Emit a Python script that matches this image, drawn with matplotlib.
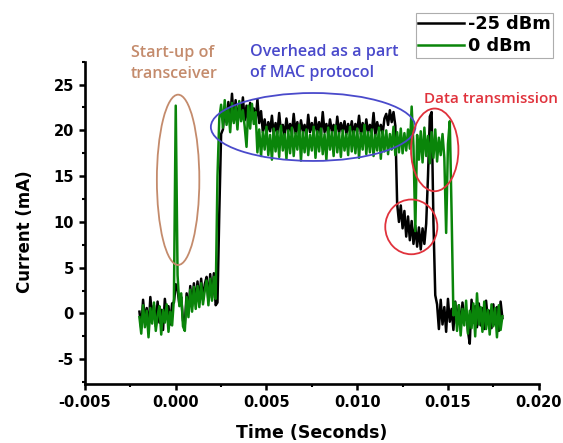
import numpy as np
import matplotlib
matplotlib.use('Agg')
import matplotlib.pyplot as plt
from matplotlib.patches import Ellipse

# sampling of the scope traces (s)
t_start = -0.002
t_step = 0.0001

# -25 dBm trace (mA), one value per sample, 10 samples per row
cur_m25 = [
    0.2, -1.6, 1.5, -0.8, 0.6, -1.9, 1.8, -0.5, 0.9, -1.4,
    1.3, -1.0, 0.4, -1.8, 1.6, -0.3, 0.8, -1.2, 1.1, 1.2,
    3.2, 2.6, 1.0, 1.8, -0.8, -1.2, 2.2, 0.1, 3.0, 0.8,
    3.3, 1.1, 3.5, 1.2, 3.8, 1.5, 3.2, 4.0, 1.4, 4.3,
    1.7, 4.4, 0.9, 1.2, 11.0, 19.6, 20.1, 22.6, 20.9, 23.1,
    21.2, 24.0, 21.0, 23.3, 20.8, 22.9, 21.4, 23.6, 21.1, 22.7,
    20.6, 23.0, 21.3, 22.4, 20.9, 23.4, 20.8, 22.1, 19.8, 21.2,
    19.6, 20.9, 19.9, 21.6, 19.5, 20.8, 19.7, 21.9, 19.8, 20.6,
    19.4, 21.3, 19.9, 20.7, 19.6, 21.8, 19.7, 20.9, 19.5, 21.1,
    19.9, 20.6, 19.3, 21.7, 19.8, 20.8, 19.6, 21.4, 19.7, 20.9,
    19.5, 22.0, 19.8, 20.7, 19.6, 21.2, 19.9, 20.6, 19.4, 21.5,
    19.7, 20.8, 19.9, 21.0, 19.6, 20.7, 19.8, 21.0, 19.5, 20.7,
    19.9, 21.6, 19.6, 20.8, 19.4, 21.2, 19.8, 20.6, 19.7, 21.9,
    19.5, 20.9, 19.9, 20.6, 19.6, 21.3, 21.8, 20.6, 22.2, 20.9,
    22.0, 20.5, 12.0, 10.0, 11.8, 9.3, 11.2, 8.4, 10.6, 8.0,
    10.1, 7.6, 9.6, 7.3, 9.4, 7.0, 9.3, 7.6, 9.8, 15.0,
    21.5, 22.0, 10.0, 2.0, 1.0, -1.7, 1.5, -1.2, 0.7, -2.0,
    1.6, -0.9, 0.5, -1.8, 1.3, -1.1, 0.9, -1.6, 1.2, -0.7,
    0.4, -1.9, -3.3, 1.5, -1.0, 0.8, -1.5, 1.1, -1.3, 0.6,
    -1.7, 1.4, -0.8, 0.3, -1.6, 1.0, -1.2, 0.7, -1.9, 1.3,
    -0.5,
]

# 0 dBm trace (mA)
cur_0 = [
    -0.4, -2.2, 0.9, -1.5, 0.3, -2.6, 0.6, -1.1, 1.2, -1.9,
    -0.2, 0.8, -2.3, 0.4, -1.0, 1.0, -2.0, 0.2, -1.3, 1.6,
    22.7, 4.2, 0.8, 2.2, -1.4, -1.9, 1.8, -0.4, 2.6, 0.2,
    2.9, 0.5, 3.0, 0.7, 3.3, 1.0, 2.5, 3.6, 0.9, 3.8,
    1.4, 4.0, 1.6, 15.0, 21.3, 22.8, 20.3, 23.3, 20.6, 22.4,
    19.8, 23.0, 20.8, 22.6, 20.1, 23.2, 21.0, 22.2, 20.4, 18.2,
    22.7, 20.2, 22.9, 20.7, 22.0, 17.6, 20.1, 17.2, 19.8, 17.9,
    20.4, 17.3, 19.5, 16.8, 20.2, 17.7, 19.9, 17.1, 20.5, 17.8,
    19.6, 16.9, 20.0, 17.5, 20.3, 17.2, 19.7, 17.9, 20.6, 16.7,
    19.8, 17.6, 20.1, 17.3, 19.5, 17.8, 20.4, 17.0, 19.9, 17.7,
    20.2, 17.4, 19.6, 16.8, 20.3, 17.9, 19.8, 17.2, 20.5, 17.6,
    19.7, 17.1, 20.0, 17.8, 19.6, 17.3, 20.4, 17.7, 19.9, 17.5,
    20.2, 17.0, 19.7, 17.9, 20.6, 17.4, 19.8, 17.6, 20.1, 17.2,
    19.5, 17.8, 20.3, 16.9, 19.9, 17.7, 20.0, 17.4, 19.6, 17.9,
    20.4, 17.3, 19.8, 17.6, 20.2, 17.5, 19.7, 17.8, 20.1, 18.0,
    22.6, 18.3, 9.0, 19.5, 16.8, 19.9, 16.5, 20.3, 17.2, 19.4,
    16.4, 19.8, 17.0, 20.1, 16.6, 19.2, 17.3, 19.6, 17.0, 8.8,
    18.5, 21.0, 11.0, -0.2, 1.2, -1.9, 0.9, -2.4, 0.5, -1.3,
    1.4, -2.2, 0.3, -1.6, 1.1, -2.5, 2.2, -1.2, 0.7, -2.0,
    1.3, -1.7, 0.4, -2.3, 1.0, -1.4, 0.6, -2.6, 0.9, -1.8,
    -0.3,
]
assert len(cur_m25) == 201 and len(cur_0) == 201

series_names = ['-25 dBm', '0 dBm']
x_ticks = [-0.005, 0.0, 0.005, 0.010, 0.015, 0.020]
x_labels = ['-0.005', '0.000', '0.005', '0.010', '0.015', '0.020']
y_ticks = [-5, 0, 5, 10, 15, 20, 25]
y_labels = ['-5', '0', '5', '10', '15', '20', '25']

t_m25 = t_start + t_step * np.arange(len(cur_m25))
t_0 = t_start + t_step * np.arange(len(cur_0))

W, H = 563, 443
fig = plt.figure(figsize=(W / 100, H / 100), dpi=100)
ax = fig.add_axes([85 / W, 1 - 384 / H, 453.7 / W, 322.3 / H])

l1, = ax.plot(t_m25, cur_m25, color='black', lw=1.8, zorder=2)
l2, = ax.plot(t_0, cur_0, color='#0a850a', lw=1.8, zorder=3)

# circled regions
ells = [
    (0.00013, 14.6, 0.00234, 18.6, '#c48b6c'),
    (0.00757, 20.37, 0.01127, 7.42, '#4a4acb'),
    (0.01427, 17.87, 0.00261, 9.03, '#e0323c'),
    (0.01298, 9.46, 0.00287, 5.98, '#e0323c'),
]
for cx, cy, w, h, c in ells:
    ax.add_patch(Ellipse((cx, cy), w, h, fill=False, edgecolor=c, lw=1.3, zorder=4))

ax.set_xlim(-0.005, 0.020)
ax.set_ylim(-7.7, 27.47)
ax.set_xticks(x_ticks)
ax.set_xticklabels(x_labels)
ax.set_yticks(y_ticks)
ax.set_yticklabels(y_labels)
ax.set_xticks(np.array(x_ticks[:-1]) + 0.0025, minor=True)
ax.set_yticks([-7.5, -2.5, 2.5, 7.5, 12.5, 17.5, 22.5, 27.5], minor=True)
for s in ['top', 'right']:
    ax.spines[s].set_visible(False)
for s in ['left', 'bottom']:
    ax.spines[s].set_linewidth(1.9)
ax.tick_params(which='major', direction='out', length=4, width=1.8, pad=4)
ax.tick_params(which='minor', direction='out', length=2.5, width=1.5)
for lab in ax.get_xticklabels() + ax.get_yticklabels():
    lab.set_fontweight('bold')
    lab.set_fontsize(10.5)

fig.text(312 / W, 1 - 433 / H, 'Time (Seconds)', fontsize=12.5, fontweight='bold',
         ha='center', va='center')
fig.text(25 / W, 1 - 232 / H, 'Current (mA)', fontsize=12, fontweight='bold',
         rotation=90, ha='center', va='center')

# annotations
ann = dict(family='Open Sans', fontweight='semibold', fontsize=11.6, va='center', ha='left')
fig.text(130.7 / W, 1 - 53 / H, 'Start-up of', color='#c48b6c', **ann)
fig.text(130.7 / W, 1 - 74 / H, 'transceiver', color='#c48b6c', **ann)
fig.text(249.5 / W, 1 - 52 / H, 'Overhead as a part', color='#4a4acb', **ann)
fig.text(249.5 / W, 1 - 73 / H, 'of MAC protocol', color='#4a4acb', **ann)
fig.text(424 / W, 1 - 99 / H, 'Data transmission', color='#e0323c',
         family='Open Sans', fontweight='semibold', fontsize=11.0, va='center', ha='left')

leg = fig.legend([l1, l2], series_names, loc='upper left',
                 bbox_to_anchor=(415.8 / W, 1 - 12.7 / H), frameon=True, fancybox=False,
                 prop={'weight': 'bold', 'size': 12.7}, handlelength=2.6,
                 handletextpad=0.2, labelspacing=0.2, borderpad=0.15, borderaxespad=0)
leg.get_frame().set_edgecolor('#999999')
leg.get_frame().set_linewidth(0.8)

fig.savefig('out.png', dpi=100)
